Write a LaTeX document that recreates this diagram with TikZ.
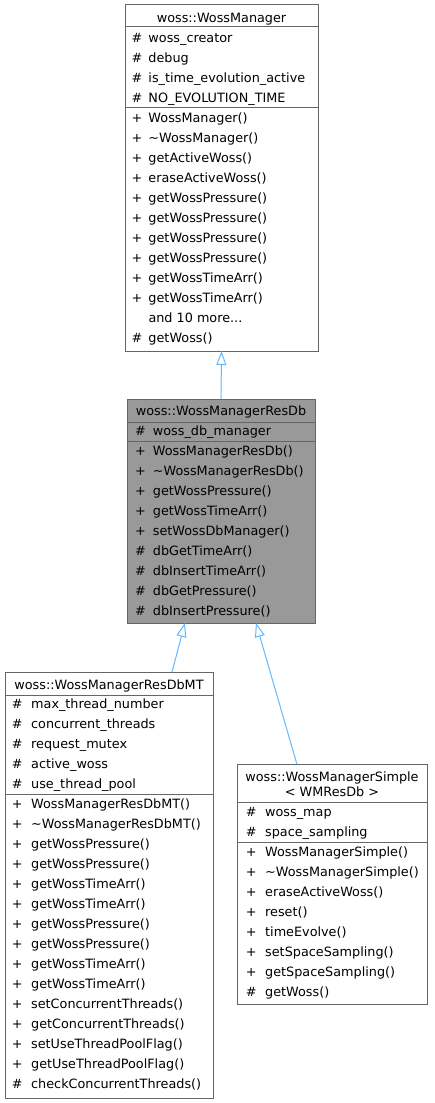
\documentclass[tikz,border=0pt]{standalone}
\usepackage{fontspec}
\setmainfont{DejaVu Sans}
\usetikzlibrary{arrows.meta,calc}
\definecolor{boxgray}{HTML}{666666}
\definecolor{fillgray}{HTML}{999999}
\definecolor{edgeblue}{HTML}{63B8FF}
\newcounter{rowc}
\newcommand\rw[5]{\stepcounter{rowc}\node[txt] (r\arabic{rowc}) at (#1,#2) {\makebox[#3pt][l]{#4}#5};}
\newcommand\ttline[3]{\stepcounter{rowc}\node[ttl] (r\arabic{rowc}) at (#1,#2) {#3};}
\begin{document}
\begin{tikzpicture}[x=1pt,y=-1pt,
  box/.style={draw=boxgray,line width=1pt,rectangle,inner sep=0pt,outer sep=0pt,anchor=north west},
  sepline/.style={draw=boxgray,line width=1pt},
  txt/.style={anchor=base west,inner sep=0pt,font=\fontsize{12.8}{14}\selectfont},
  ttl/.style={anchor=base,inner sep=0pt,font=\fontsize{12.8}{14}\selectfont},
  inh/.style={draw=edgeblue,line width=1pt,-{Triangle[open,width=10pt,length=14pt,fill=white]}}]
\useasboundingbox (0,0) rectangle (434,1103);
% boxes
\node[box,fill=white,minimum width=193pt,minimum height=347pt] (b1) at (125,4) {};
\node[box,fill=fillgray,minimum width=188pt,minimum height=224pt] (b2) at (127,399) {};
\node[box,fill=white,minimum width=208pt,minimum height=426pt] (b3) at (5,672) {};
\node[box,fill=white,minimum width=190pt,minimum height=240pt] (b4) at (237,764) {};
% separators
\draw[sepline] (b1.west |- 0,26) -- (b1.east |- 0,26);
\draw[sepline] (b1.west |- 0,107) -- (b1.east |- 0,107);
\draw[sepline] (b2.west |- 0,422) -- (b2.east |- 0,422);
\draw[sepline] (b2.west |- 0,441) -- (b2.east |- 0,441);
\draw[sepline] (b3.west |- 0,695) -- (b3.east |- 0,695);
\draw[sepline] (b3.west |- 0,794) -- (b3.east |- 0,794);
\draw[sepline] (b4.west |- 0,802) -- (b4.east |- 0,802);
\draw[sepline] (b4.west |- 0,842) -- (b4.east |- 0,842);
% box 1
\ttline{221.5}{22}{woss::WossManager}
\rw{131.5}{42}{16.8}{\#}{woss\_creator}
\rw{131.5}{62}{16.8}{\#}{debug}
\rw{131.5}{82}{16.8}{\#}{is\_time\_evolution\_active}
\rw{131.5}{102}{16.8}{\#}{NO\_EVOLUTION\_TIME}
\rw{131.5}{122}{16.8}{+}{WossManager()}
\rw{131.5}{142}{16.8}{+}{\textasciitilde WossManager()}
\rw{131.5}{162}{16.8}{+}{getActiveWoss()}
\rw{131.5}{182}{16.8}{+}{eraseActiveWoss()}
\rw{131.5}{202}{16.8}{+}{getWossPressure()}
\rw{131.5}{222}{16.8}{+}{getWossPressure()}
\rw{131.5}{242}{16.8}{+}{getWossPressure()}
\rw{131.5}{262}{16.8}{+}{getWossPressure()}
\rw{131.5}{282}{16.8}{+}{getWossTimeArr()}
\rw{131.5}{302}{16.8}{+}{getWossTimeArr()}
\rw{131.5}{322}{16.8}{}{and 10 more...}
\rw{131.5}{342}{16.8}{\#}{getWoss()}
% box 2
\ttline{221}{415.5}{woss::WossManagerResDb}
\rw{135}{435.5}{17.7}{\#}{woss\_db\_manager}
\rw{135}{455.5}{17.7}{+}{WossManagerResDb()}
\rw{135}{475.5}{17.7}{+}{\textasciitilde WossManagerResDb()}
\rw{135}{495.5}{17.7}{+}{getWossPressure()}
\rw{135}{515.5}{17.7}{+}{getWossTimeArr()}
\rw{135}{535.5}{17.7}{+}{setWossDbManager()}
\rw{135}{555.5}{17.7}{\#}{dbGetTimeArr()}
\rw{135}{575.5}{17.7}{\#}{dbInsertTimeArr()}
\rw{135}{595.5}{17.7}{\#}{dbGetPressure()}
\rw{135}{615.5}{17.7}{\#}{dbInsertPressure()}
% box 3
\ttline{109}{689.5}{woss::WossManagerResDbMT}
\rw{11.7}{708.5}{19.3}{\#}{max\_thread\_number}
\rw{11.7}{728.5}{19.3}{\#}{concurrent\_threads}
\rw{11.7}{748.5}{19.3}{\#}{request\_mutex}
\rw{11.7}{768.5}{19.3}{\#}{active\_woss}
\rw{11.7}{788.5}{19.3}{\#}{use\_thread\_pool}
\rw{11.7}{808.5}{19.3}{+}{WossManagerResDbMT()}
\rw{11.7}{828.5}{19.3}{+}{\textasciitilde WossManagerResDbMT()}
\rw{11.7}{848.5}{19.3}{+}{getWossPressure()}
\rw{11.7}{868.5}{19.3}{+}{getWossPressure()}
\rw{11.7}{888.5}{19.3}{+}{getWossTimeArr()}
\rw{11.7}{908.5}{19.3}{+}{getWossTimeArr()}
\rw{11.7}{928.5}{19.3}{+}{getWossPressure()}
\rw{11.7}{948.5}{19.3}{+}{getWossPressure()}
\rw{11.7}{968.5}{19.3}{+}{getWossTimeArr()}
\rw{11.7}{988.5}{19.3}{+}{getWossTimeArr()}
\rw{11.7}{1008.5}{19.3}{+}{setConcurrentThreads()}
\rw{11.7}{1028.5}{19.3}{+}{getConcurrentThreads()}
\rw{11.7}{1048.5}{19.3}{+}{setUseThreadPoolFlag()}
\rw{11.7}{1068.5}{19.3}{+}{getUseThreadPoolFlag()}
\rw{11.7}{1088.5}{19.3}{\#}{checkConcurrentThreads()}
% box 4
\ttline{332}{781.5}{woss::WossManagerSimple}
\ttline{332}{796.5}{< WMResDb >}
\rw{245.7}{816.5}{19.3}{\#}{woss\_map}
\rw{245.7}{836.5}{19.3}{\#}{space\_sampling}
\rw{245.7}{856.5}{19.3}{+}{WossManagerSimple()}
\rw{245.7}{876.5}{19.3}{+}{\textasciitilde WossManagerSimple()}
\rw{245.7}{896.5}{19.3}{+}{eraseActiveWoss()}
\rw{245.7}{916.5}{19.3}{+}{reset()}
\rw{245.7}{936.5}{19.3}{+}{timeEvolve()}
\rw{245.7}{956.5}{19.3}{+}{setSpaceSampling()}
\rw{245.7}{976.5}{19.3}{+}{getSpaceSampling()}
\rw{245.7}{996.5}{19.3}{\#}{getWoss()}
% inheritance edges
\draw[inh] (b2.north) -- (b1.south);
\draw[inh] ($(b3.north west)!0.803!(b3.north east)$) -- ($(b2.south west)!0.308!(b2.south east)$);
\draw[inh] ($(b4.north west)!0.315!(b4.north east)$) -- ($(b2.south west)!0.686!(b2.south east)$);
\end{tikzpicture}
\end{document}
